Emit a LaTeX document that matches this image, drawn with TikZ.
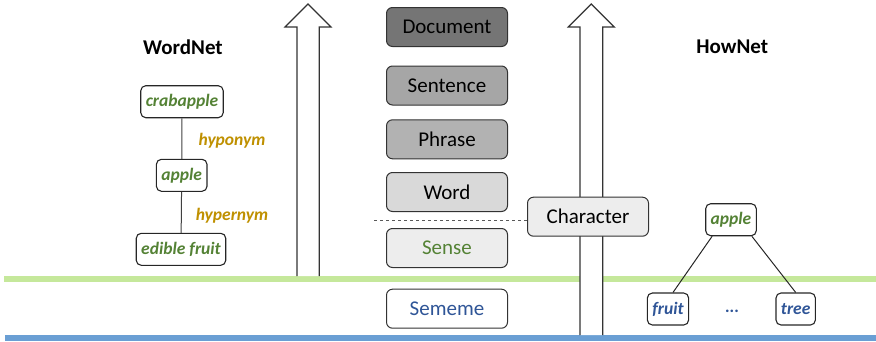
\documentclass[tikz,border=0pt]{standalone}
\usepackage{fontspec}
\setmainfont{Carlito}
\usetikzlibrary{positioning}
\definecolor{levelgreen}{RGB}{197,232,155}
\definecolor{levelblue}{RGB}{106,159,212}
\definecolor{sensegreen}{RGB}{84,130,53}
\definecolor{semblue}{RGB}{47,85,151}
\definecolor{relgold}{RGB}{191,144,0}
\tikzset{
  layerbox/.style={draw=black!80,line width=1pt,rounded corners=6pt,minimum width=121pt,
    minimum height=39pt,inner sep=0pt,font=\fontsize{21}{24}\selectfont},
  netbox/.style={draw=black!85,line width=1.1pt,rounded corners=5pt,minimum height=32pt,
    inner sep=5pt,font=\fontsize{17.5}{20}\selectfont\bfseries\itshape},
  relname/.style={text=relgold,font=\fontsize{17.5}{20}\selectfont\bfseries\itshape},
  nettitle/.style={font=\fontsize{21}{24}\selectfont\bfseries},
  bigarrow/.style={draw=black!80,line width=1.2pt}
}
\begin{document}
\begin{tikzpicture}[x=1pt,y=-1pt]
    \useasboundingbox (0,0) rectangle (876,341);
    % level lines
    \fill[levelgreen] (4,276) rectangle (876,282);
    \fill[levelblue] (5,335) rectangle (876,341);
    % the two big arrows
    \fill[white] (297,276) -- (297,27) -- (285,27) -- (308,4) -- (331,27) -- (319.3,27) -- (319.3,276) -- cycle;
    \draw[bigarrow] (297,276) -- (297,27) -- (285,27) -- (308,4) -- (331,27) -- (319.3,27) -- (319.3,276);
    \fill[white] (580,335) -- (580,27) -- (568.3,27) -- (591.3,4) -- (614.3,27) -- (602.7,27) -- (602.7,335) -- cycle;
    \draw[bigarrow] (580,335) -- (580,27) -- (568.3,27) -- (591.3,4) -- (614.3,27) -- (602.7,27) -- (602.7,335);
    % granularity levels
    \node[layerbox,fill=black!54] (doc) at (447,27) {Document};
    \node[layerbox,fill=black!35] (sent) at (447,85.5) {Sentence};
    \node[layerbox,fill=black!30] (phr) at (447,139.3) {Phrase};
    \node[layerbox,fill=black!15] (word) at (447,192) {Word};
    \node[layerbox,fill=black!7,text=sensegreen] (sense) at (447,248) {Sense};
    \node[layerbox,fill=white,text=semblue] (sememe) at (447,308.7) {Sememe};
    \node[layerbox,fill=black!7] (char) at (588,216.7) {Character};
    \coordinate (cut) at (374.3,220);
    \draw[dashed,black!65,line width=0.9pt] (cut) -- (char.west |- cut);
    % WordNet
    \node[nettitle] (wn) at (183,47) {WordNet};
    \node[netbox,text=sensegreen] (crab) at (182,101.7) {crabapple};
    \node[netbox,text=sensegreen] (wnapple) at (181.7,175.3) {apple};
    \node[netbox,text=sensegreen] (edible) at (181,249.3) {edible fruit};
    \draw[black!75,line width=1pt] (crab) -- (wnapple);
    \draw[black!75,line width=1pt] (wnapple) -- (edible);
    \node[relname] (hypo) at (232,141) {hyponym};
    \node[relname] (hyper) at (232,216) {hypernym};
    % HowNet
    \node[nettitle] (hn) at (732.3,47) {HowNet};
    \node[netbox,text=sensegreen] (hnapple) at (731,219.7) {apple};
    \node[netbox,text=semblue] (fruit) at (668,309) {fruit};
    \node[netbox,text=semblue] (tree) at (795.7,309) {tree};
    \node[text=semblue,font=\fontsize{17.5}{20}\selectfont\bfseries\itshape] (dots) at (732.3,311) {...};
    \draw[black!85,line width=1pt] (hnapple.south west) ++(7,0) -- ([xshift=5pt]fruit.north);
    \draw[black!85,line width=1pt] (hnapple.south east) ++(-5,0) -- (tree.north);
\end{tikzpicture}
\end{document}
